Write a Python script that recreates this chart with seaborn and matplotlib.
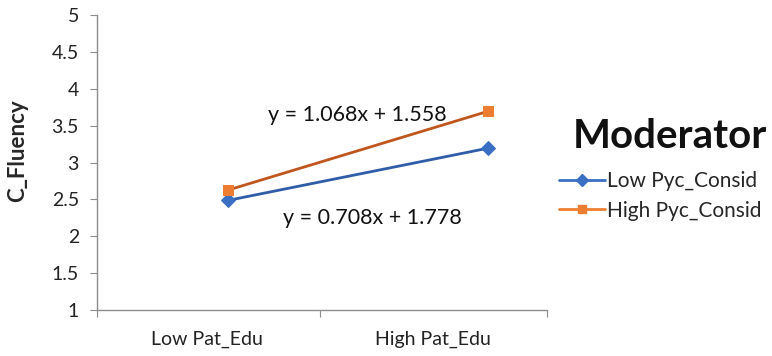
import matplotlib
matplotlib.use("Agg")
import matplotlib.pyplot as plt
import seaborn as sns
import pandas as pd
from matplotlib.lines import Line2D

categories = ["Low Pat_Edu", "High Pat_Edu"]
low_pyc = [2.486, 3.194]
high_pyc = [2.626, 3.694]
series_names = ["Low Pyc_Consid", "High Pyc_Consid"]
eq_high = "y = 1.068x + 1.558"
eq_low = "y = 0.708x + 1.778"
y_ticks = [1, 1.5, 2, 2.5, 3, 3.5, 4, 4.5, 5]

sns.set_style("white")
plt.rcParams['font.family'] = ['Lato', 'DejaVu Sans']

df = pd.DataFrame({
    "x": [0, 1, 0, 1],
    "y": low_pyc + high_pyc,
    "Moderator": [series_names[0]] * 2 + [series_names[1]] * 2,
})

fig = plt.figure(figsize=(7.72, 3.56), dpi=100)
ax = fig.add_axes([97/772, 46/356, 450/772, 295/356])

line_colors = {series_names[0]: "#2F5DA8", series_names[1]: "#C0561E"}
sns.lineplot(data=df, x="x", y="y", hue="Moderator", style="Moderator",
             palette=line_colors, markers={series_names[0]: "D", series_names[1]: "s"},
             dashes=False, linewidth=2, markersize=7, ax=ax, legend=False)
lines = ax.get_lines()
lines[0].set_markerfacecolor("#3A6FC4"); lines[0].set_markeredgecolor("#3A6FC4")
lines[1].set_markerfacecolor("#ED7D31"); lines[1].set_markeredgecolor("#ED7D31")

ax.set_ylim(1, 5)
ax.set_yticks(y_ticks)
ax.set_yticklabels([f"{t:g}" for t in y_ticks], fontsize=14, color="#222222")
ax.set_xlim(-0.504, 1.227)
ax.set_xticks([-0.504, 0.354, 1.227])
ax.set_xticklabels([])
for pos, lab in zip([-0.081, 0.788], categories):
    ax.text(pos, -0.07, lab, transform=ax.get_xaxis_transform(), ha="center", va="top",
            fontsize=14, color="#222222")
ax.set_xlabel("")
ax.set_ylabel("C_Fluency", fontsize=16, fontweight="bold")
ax.yaxis.set_label_coords(-0.152, 0.54)

for side in ["top", "right"]:
    ax.spines[side].set_visible(False)
for side in ["left", "bottom"]:
    ax.spines[side].set_color("#8C8C8C")
    ax.spines[side].set_linewidth(1)
ax.tick_params(axis="y", direction="out", length=5, color="#8C8C8C", left=True, pad=8)
ax.tick_params(axis="x", direction="out", length=5, color="#8C8C8C", bottom=True)

ax.text(0.496, 3.64, eq_high, fontsize=15.5, ha="center", va="center", color="#111111")
ax.text(0.554, 2.25, eq_low, fontsize=15.5, ha="center", va="center", color="#111111")

handles = [
    Line2D([0], [0], color="#3A6FC4", marker="D", markersize=6, linewidth=2),
    Line2D([0], [0], color="#ED7D31", marker="s", markersize=6, linewidth=2),
]
fig.text(670/772, 1 - 137/356, "Moderator", fontsize=29, fontweight="bold",
         ha="center", va="center", color="#111111")
leg = fig.legend(handles, series_names, loc="center left", bbox_to_anchor=(540/772, 1 - 196/356),
                 frameon=False, fontsize=15, handlelength=2.2,
                 handletextpad=0.1, labelspacing=0.45)

fig.savefig("out.png", dpi=100)
